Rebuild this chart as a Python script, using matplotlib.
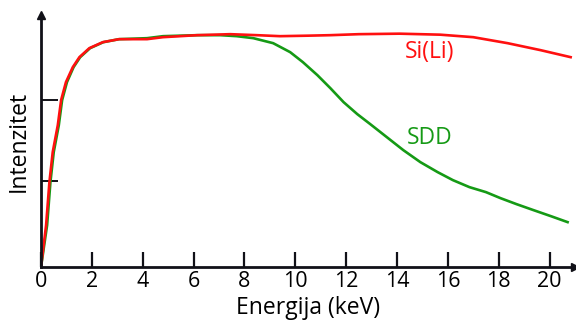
import matplotlib.pyplot as plt

plt.rcParams['font.family'] = ['Open Sans', 'DejaVu Sans']

# energija (keV) i intenzitet (proizvoljne jedinice)
e_sili = [0, 0.2, 0.33, 0.46, 0.66, 0.79, 0.98, 1.25, 1.51, 1.9, 2.43, 3.07,
          4.17, 4.8, 6.14, 7.44, 8.5, 9.4, 10.5, 11.38, 12.5, 14.1, 15.7,
          17.0, 18.35, 19.65, 20.83]
i_sili = [0, 42, 85, 115, 142, 167, 185, 200, 210, 219, 225, 228,
          228, 230, 232, 233, 232, 231, 231.5, 232, 233, 233.5, 232.5,
          230, 224, 217, 210]

e_sdd = [0, 0.24, 0.37, 0.5, 0.7, 0.83, 1.02, 1.28, 1.54, 1.93, 2.45, 3.07,
         4.17, 4.8, 6.14, 7.05, 7.7, 8.35, 9.13, 9.8, 10.3, 10.87, 11.38,
         11.9, 12.44, 12.95, 13.6, 14.25, 14.92, 15.6, 16.2, 16.85, 17.5,
         18.07, 18.7, 19.37, 20.05, 20.71]
i_sdd = [0, 42, 85, 115, 142, 167, 185, 200, 210, 219, 225, 228,
         229, 231, 232, 232, 231, 229, 224, 215, 205, 192, 179,
         165, 153, 143, 130, 117, 105, 95, 87, 80, 75,
         69, 63, 57, 51, 45]

xticks = [0, 2, 4, 6, 8, 10, 12, 14, 16, 18, 20]
yticks = [86, 167]

red = '#ff1010'
green = '#159a15'
axc = '#111118'

fig = plt.figure(figsize=(5.76, 3.23), dpi=100)
ax = fig.add_axes([0.0712, 0.173, 0.927, 0.78])

ax.plot(e_sdd, i_sdd, color=green, lw=1.9, solid_joinstyle='round')
ax.plot(e_sili, i_sili, color=red, lw=1.9, solid_joinstyle='round')

ax.text(15.3, 215, 'Si(Li)', color=red, fontsize=16.5, ha='center', va='center')
ax.text(15.3, 129, 'SDD', color=green, fontsize=16.5, ha='center', va='center')

ax.set_xlim(0, 21.0)
ax.set_ylim(0, 252)

for s in ['top', 'right']:
    ax.spines[s].set_visible(False)
for s in ['left', 'bottom']:
    ax.spines[s].set_linewidth(2.0)
    ax.spines[s].set_color(axc)

# strelice na krajevima osi
ax.plot(1, 0, '>', color=axc, ms=6, transform=ax.transAxes, clip_on=False)
ax.plot(0, 1, '^', color=axc, ms=6, transform=ax.transAxes, clip_on=False)

ax.set_xticks(xticks)
ax.set_yticks(yticks)
ax.set_yticklabels([])
ax.tick_params(axis='x', direction='in', length=11, width=1.6, color=axc,
               labelsize=15.5, pad=3)
ax.tick_params(axis='y', direction='in', length=12, width=1.4, color=axc)

ax.set_xlabel('Energija (keV)', fontsize=16.5, labelpad=3)
ax.set_ylabel('Intenzitet', fontsize=16.5, labelpad=4)

fig.savefig('out.png', dpi=100)
